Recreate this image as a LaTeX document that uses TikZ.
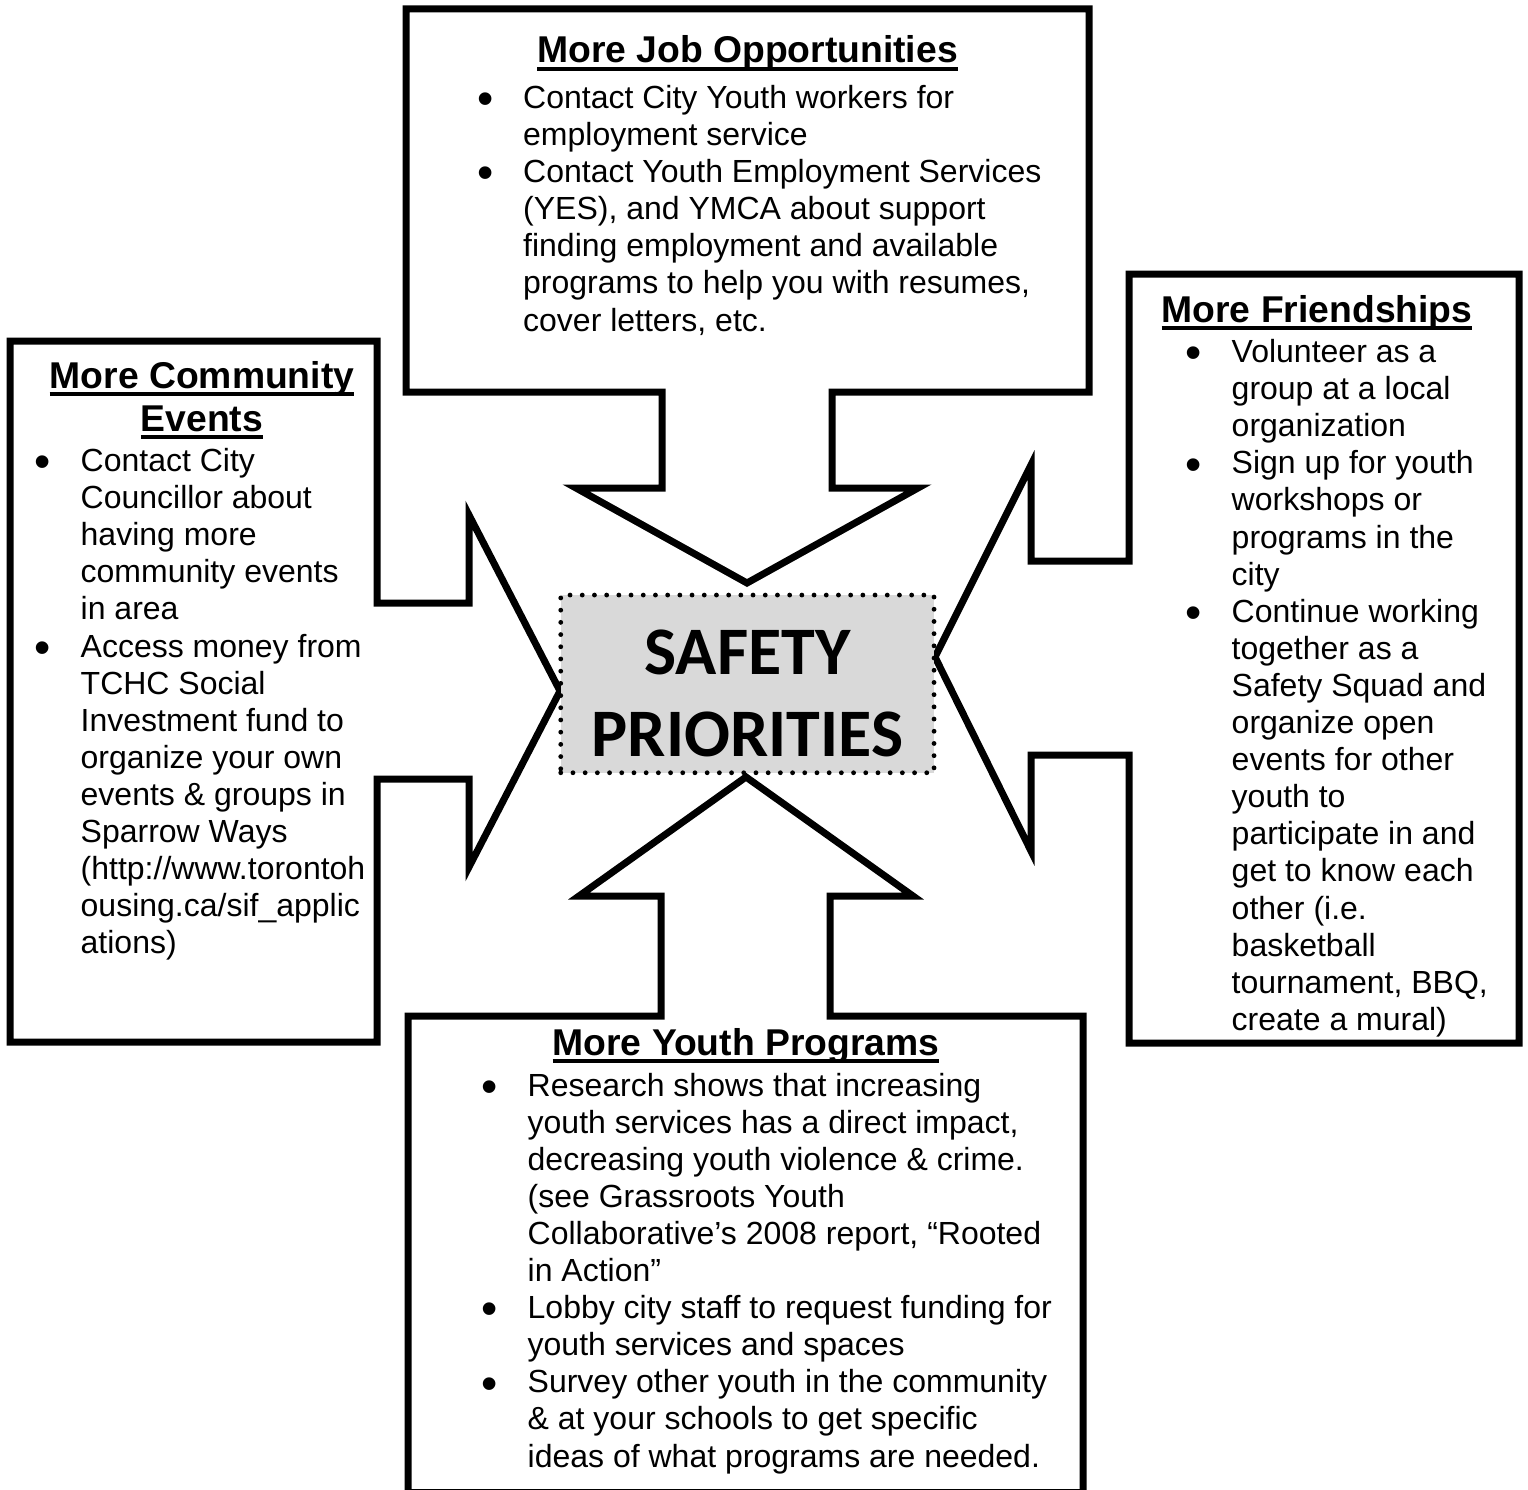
\documentclass[tikz,border=0pt]{standalone}
\usepackage{fontspec}
\usepackage{graphicx}
\setmainfont{Liberation Sans}
\newfontfamily\calibfont{Carlito}
\newlength{\bulletoff}
\setlength{\bulletoff}{38pt}
\newcommand{\bitem}{\par\noindent\llap{\makebox[0pt][c]{\raisebox{-6.2pt}{\scalebox{1.45}{•}}}\hspace{\bulletoff}}}
\newcommand{\ulh}[1]{\leavevmode\setbox0\hbox{#1}\rlap{\rule[-8pt]{\wd0}{3.8pt}}\box0}
\newcommand{\bodyfont}{\fontsize{32pt}{37.1pt}\selectfont}
\newcommand{\headfont}{\fontsize{37.3pt}{43pt}\selectfont\bfseries}
\begin{document}
\begin{tikzpicture}[x=1pt,y=-1pt,
  calloutline/.style={draw=black, line width=7pt, line join=miter, fill=white},
  bodytext/.style={anchor=base west, inner sep=0pt},
  headtext/.style={anchor=base, inner sep=0pt, font=\headfont},
  core/.style={fill={rgb,255:red,217;green,217;blue,217}, draw=black, line width=4.8pt,
    dash pattern=on 0pt off 12.2pt, line cap=round, inner sep=0pt,
    minimum width=373.3pt, minimum height=177.7pt}]
\useasboundingbox (0,0) rectangle (1528,1490);
\fill[white] (0,0) rectangle (1528,1490);

% top callout: More Job Opportunities
\draw[calloutline] (406,9) -- (1089,9) -- (1089,392) -- (832,392) -- (832,488)
  -- (918,488) -- (747,583) -- (576,488) -- (662,488) -- (662,392) -- (406,392) -- cycle;
% left callout: More Community Events
\draw[calloutline] (10,341) -- (377,341) -- (377,603) -- (469,603) -- (469,515)
  -- (560,691) -- (469,867) -- (469,779) -- (377,779) -- (377,1042) -- (10,1042) -- cycle;
% right callout: More Friendships
\draw[calloutline] (1129,274) -- (1519,274) -- (1519,1043) -- (1129,1043) -- (1129,755)
  -- (1031,755) -- (1031,851) -- (935,657) -- (1031,465) -- (1031,561) -- (1129,561) -- cycle;
% bottom callout: More Youth Programs
\draw[calloutline] (746,777) -- (913,896) -- (830,896) -- (830,1016) -- (1083,1016)
  -- (1083,1492.5) -- (408,1492.5) -- (408,1016) -- (661,1016) -- (661,896) -- (579,896) -- cycle;

% centre
\node[core] (core) at (747.4,683.9) {\raisebox{0pt}[40pt][59.1pt]{\parbox[t]{373pt}{\centering\calibfont\bfseries\fontsize{68pt}{82.4pt}\selectfont SAFETY\\PRIORITIES}}};

% headings
\node[headtext] (jobhead) at (747.5,62.7) {\ulh{More Job Opportunities}};
\node[headtext] (commhead) at (202,388) {\parbox[t]{360pt}{\centering\headfont\ulh{More Community}\\\ulh{Events}}};
\node[headtext] (friendhead) at (1317,322) {\ulh{More Friendships}};
\node[headtext] (youthhead) at (746,1055) {\ulh{More Youth Programs}};

% body texts
\node[bodytext] (jobtext) at (523,108.5) {\parbox[t]{600pt}{\bodyfont
\bitem Contact City Youth workers for\\employment service
\bitem Contact Youth Employment Services\\(YES), and YMCA about support\\finding employment and available\\programs to help you with resumes,\\cover letters, etc.}};

\node[bodytext] (commtext) at (80.5,471.5) {\parbox[t]{330pt}{\bodyfont
\bitem Contact City\\Councillor about\\having more\\community events\\in area
\bitem Access money from\\TCHC Social\\Investment fund to\\organize your own\\events \& groups in\\Sparrow Ways\\(http://www.torontoh\\ousing.ca/sif\_applic\\ations)}};

\node[bodytext] (friendtext) at (1231.5,362.5) {\parbox[t]{330pt}{\bodyfont
\bitem Volunteer as a\\group at a local\\organization
\bitem Sign up for youth\\workshops or\\programs in the\\city
\bitem Continue working\\together as a\\Safety Squad and\\organize open\\events for other\\youth to\\participate in and\\get to know each\\other (i.e.\\basketball\\tournament, BBQ,\\create a mural)}};

\node[bodytext] (youthtext) at (527.5,1096) {\parbox[t]{600pt}{\bodyfont
\bitem Research shows that increasing\\youth services has a direct impact,\\decreasing youth violence \& crime.\\(see Grassroots Youth\\Collaborative’s 2008 report, “Rooted\\in Action”
\bitem Lobby city staff to request funding for\\youth services and spaces
\bitem Survey other youth in the community\\\& at your schools to get specific\\ideas of what programs are needed.}};
\end{tikzpicture}
\end{document}
